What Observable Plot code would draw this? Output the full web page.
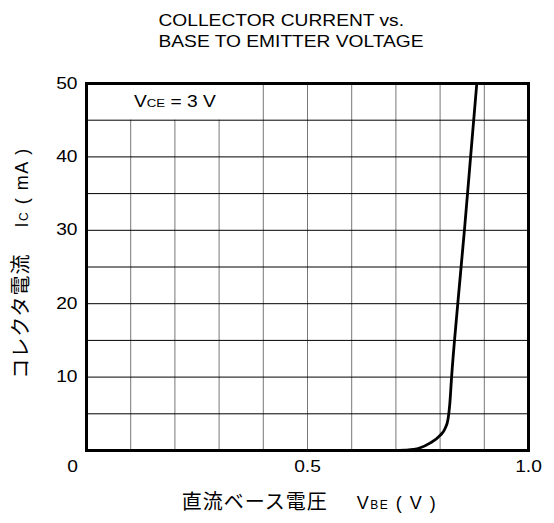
<!DOCTYPE html>
<html><head><meta charset="utf-8">
<script src="https://cdn.jsdelivr.net/npm/d3@7"></script>
<script src="https://cdn.jsdelivr.net/npm/@observablehq/plot@0.6"></script>
<style>body{margin:0;background:#fff} svg{display:block}</style>
</head><body><div id="chart"></div>
<script>
// Data (V_BE in volts, I_C in mA)
const vbe = [0, 0.70, 0.72, 0.74, 0.755, 0.777, 0.80, 0.811, 0.818, 0.822, 0.826, 0.840, 0.855, 0.869, 0.883];
const ic  = [0, 0,    0.05, 0.15, 0.37,  1.0,   2.05, 2.95,  4.3,   6.4,   10,    20,    30,    40,    50];
const xTicks = [0.5, 1.0];
const yTicks = [10, 20, 30, 40, 50];
const xGrid = [0.1, 0.2, 0.3, 0.4, 0.5, 0.6, 0.7, 0.8, 0.9];
const yGrid = [5, 10, 15, 20, 25, 30, 35, 40, 45];
const titleLines = ["COLLECTOR CURRENT vs.", "BASE TO EMITTER VOLTAGE"];
const condLabel = "VCE = 3 V";
const xLabel = "直流ベース電圧 VBE ( V )";
const yLabel = "コレクタ電流 IC ( mA )";

const LATIN = "'Liberation Sans', Arial, sans-serif";
const CJK = "'Noto Sans CJK JP', sans-serif";

const curve = vbe.map((v, k) => ({v, i: ic[k]}));

const svg = Plot.plot({
  width: 554, height: 523,
  marginTop: 83, marginLeft: 86, marginRight: 26, marginBottom: 73,
  style: {fontFamily: LATIN, fontSize: "16px", color: "#000", background: "#fff"},
  x: {domain: [0, 1]},
  y: {domain: [0, 50]},
  marks: [
    Plot.ruleX(xGrid, {x: d => d, y1: 0, y2: d => d < 0.35 ? 45 : 50, stroke: "#777", strokeWidth: 1}),
    Plot.ruleY(yGrid, {y: d => d, stroke: "#000", strokeWidth: 1}),
    Plot.line(curve, {x: "v", y: "i", curve: "monotone-x", stroke: "#000", strokeWidth: 2.8}),
    Plot.frame({stroke: "#000", strokeWidth: 3}),
    Plot.axisY(yTicks, {tickSize: 0, tickPadding: 9, fontSize: 16, label: null}),
    Plot.axisX(xTicks, {tickSize: 0, tickPadding: 10, fontSize: 16, tickFormat: d => d.toFixed(1), label: null}),
    Plot.text(["0"], {x: () => 0, y: () => 0, text: d => d, dx: -14, dy: 16.5, fontSize: 16}),
    Plot.text([titleLines[0]], {frameAnchor: "top-left", textAnchor: "start", lineAnchor: "middle", dx: 72, dy: -63, fontSize: 16, text: d => d}),
    Plot.text([titleLines[1]], {frameAnchor: "top-left", textAnchor: "start", lineAnchor: "middle", dx: 72, dy: -42, fontSize: 16, text: d => d}),
    Plot.text([condLabel], {x: () => 0.2, y: () => 47.5, text: d => d, fontSize: 16}),
    Plot.text([xLabel], {frameAnchor: "bottom", textAnchor: "middle", dx: 2, dy: 58, text: d => d, fontSize: 18, fill: "#000"}),
    Plot.text([yLabel], {frameAnchor: "left", textAnchor: "middle", rotate: -90, dx: -64, dy: -4, text: d => d, fontSize: 18, fill: "#000"})
  ]
});
document.getElementById("chart").append(svg);

function rich(key, parts) {
  d3.select(svg).selectAll("text").filter(function() { return this.textContent === key; }).each(function() {
    const t = d3.select(this);
    t.text(null);
    parts.forEach(p => {
      const s = t.append("tspan").text(p.t).attr("font-size", p.size).attr("font-family", p.font);
      if (p.dx) s.attr("dx", p.dx);
      if (p.ls) s.attr("letter-spacing", p.ls);
    });
    this.__noStretch = !!parts.noStretch;
  });
}
const cond = [{t: "V", font: LATIN, size: 16}, {t: "CE", font: LATIN, size: 11}, {t: " = 3 V", font: LATIN, size: 16}];
rich(condLabel, cond);
const xl = [
  {t: "直流ベース電圧", font: CJK, size: 20, ls: 1},
  {t: "V", font: LATIN, size: 18, dx: 29, ls: 1.5},
  {t: "BE", font: LATIN, size: 12, ls: 1.5},
  {t: " ( V )", font: LATIN, size: 18, ls: 1.5}
];
xl.noStretch = true;
rich(xLabel, xl);
const yl = [
  {t: "コレクタ電流", font: CJK, size: 20, ls: 1},
  {t: "I", font: LATIN, size: 18, dx: 26, ls: 1.5},
  {t: "C", font: LATIN, size: 12, ls: 1.5},
  {t: " ( mA )", font: LATIN, size: 18, ls: 1.5}
];
yl.noStretch = true;
rich(yLabel, yl);

// widen Latin glyphs to match the reference's wide sans
const SX = 1.2;
d3.select(svg).selectAll("text").each(function() {
  if (this.__noStretch) return;
  const tr = this.getAttribute("transform");
  if (tr) this.setAttribute("transform", tr + ` scale(${SX},1)`);
  else {
    const x = +(this.getAttribute("x") || 0), y = +(this.getAttribute("y") || 0);
    this.setAttribute("transform", `translate(${x},${y}) scale(${SX},1) translate(${-x},${-y})`);
  }
});
</script>
</body></html>
